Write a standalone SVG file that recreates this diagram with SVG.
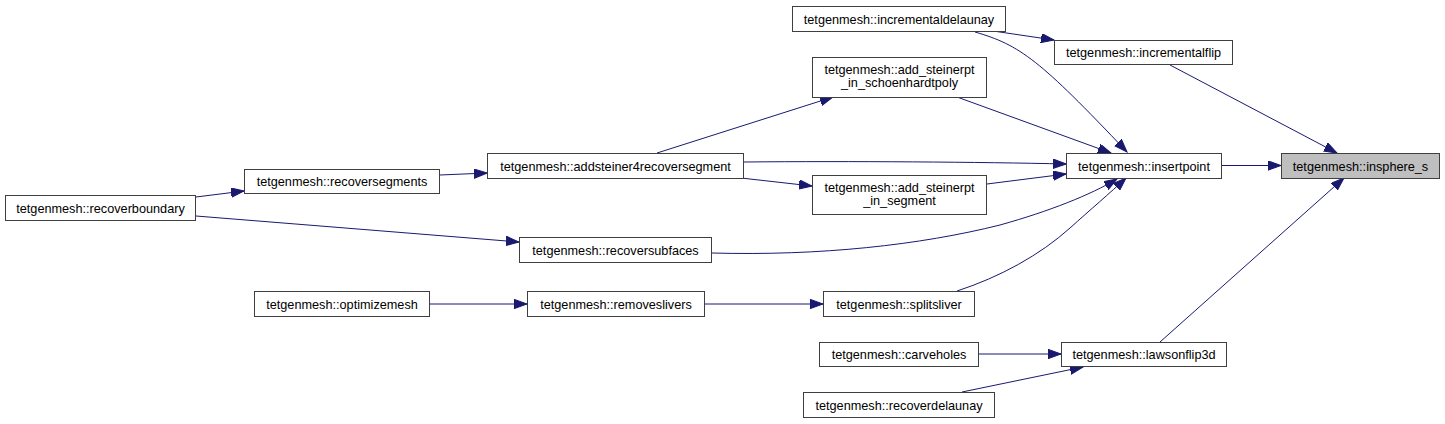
<svg xmlns="http://www.w3.org/2000/svg" width="1445" height="424" viewBox="0 0 1445 424">
<style>
.n rect{fill:#ffffff;stroke:#3f3f3f;stroke-width:1}
.n.root rect{fill:#bfbfbf}
.n text{font-family:"Liberation Sans",Arial,sans-serif;font-size:12.7px;fill:#000;text-anchor:middle}
.e path{fill:none;stroke:#191970;stroke-width:1;marker-end:url(#ah)}
</style>
<defs>
<marker id="ah" markerWidth="14" markerHeight="10" refX="13" refY="4.7" orient="auto" markerUnits="userSpaceOnUse">
<polygon points="0,0 13,4.7 0,9.4" fill="#191970" stroke="#191970" stroke-width="1"/>
</marker>
</defs>
<rect width="1445" height="424" fill="#ffffff"/>
<g id="edges" class="e">
<path d="M1222,165.5 L1281,165.5"/>
<path d="M1170,65 L1337,153"/>
<path d="M1160,342 L1344,178"/>
<path d="M993,31 L1054,40"/>
<path d="M975,32 C1020,45 1040,60 1127,152"/>
<path d="M957,97 L1111,153"/>
<path d="M744,162 C850,161 980,162 1066,164"/>
<path d="M987,184 L1066,174"/>
<path d="M712,253 C820,256 920,245 1000,225 C1050,211 1090,195 1117,179"/>
<path d="M957,291 C1000,277 1040,255 1070,228 C1090,210 1110,193 1126,178"/>
<path d="M741,178 L812,186"/>
<path d="M657,153 L833,97"/>
<path d="M440,175 L487,173"/>
<path d="M196,197 L244,191"/>
<path d="M196,216 L519,242"/>
<path d="M430,304 L527,304"/>
<path d="M704,304 L823,304"/>
<path d="M979,354 L1061,354"/>
<path d="M962,392 L1083,367"/>
</g>
<g id="insphere_s" class="n root"><rect x="1281.5" y="153.5" width="158" height="25"/><text x="1360.5" y="170.5">tetgenmesh::insphere_s</text></g>
<g id="insertpoint" class="n"><rect x="1066.5" y="153.5" width="155" height="25"/><text x="1144" y="170.5">tetgenmesh::insertpoint</text></g>
<g id="incrementalflip" class="n"><rect x="1054.5" y="40.5" width="178" height="24"/><text x="1143.5" y="57">tetgenmesh::incrementalflip</text></g>
<g id="lawsonflip3d" class="n"><rect x="1061.5" y="342.5" width="165" height="24"/><text x="1144" y="359">tetgenmesh::lawsonflip3d</text></g>
<g id="incrementaldelaunay" class="n"><rect x="792.5" y="6.5" width="213" height="25"/><text x="899" y="23.5">tetgenmesh::incrementaldelaunay</text></g>
<g id="add_steinerpt_in_schoenhardtpoly" class="n"><rect x="812.5" y="57.5" width="174" height="40"/><text x="899.5" y="73.5">tetgenmesh::add_steinerpt</text><text x="899.5" y="87">_in_schoenhardtpoly</text></g>
<g id="addsteiner4recoversegment" class="n"><rect x="487.5" y="153.5" width="256" height="25"/><text x="615.5" y="170.5">tetgenmesh::addsteiner4recoversegment</text></g>
<g id="add_steinerpt_in_segment" class="n"><rect x="812.5" y="175.5" width="174" height="39"/><text x="899.5" y="191.5">tetgenmesh::add_steinerpt</text><text x="899.5" y="205">_in_segment</text></g>
<g id="recoversubfaces" class="n"><rect x="519.5" y="237.5" width="192" height="25"/><text x="615.5" y="254.5">tetgenmesh::recoversubfaces</text></g>
<g id="splitsliver" class="n"><rect x="823.5" y="291.5" width="151" height="25"/><text x="899" y="308.5">tetgenmesh::splitsliver</text></g>
<g id="carveholes" class="n"><rect x="819.5" y="342.5" width="159" height="24"/><text x="899" y="359">tetgenmesh::carveholes</text></g>
<g id="recoverdelaunay" class="n"><rect x="803.5" y="392.5" width="191" height="25"/><text x="899" y="409.5">tetgenmesh::recoverdelaunay</text></g>
<g id="recoversegments" class="n"><rect x="244.5" y="169.5" width="195" height="24"/><text x="342" y="186">tetgenmesh::recoversegments</text></g>
<g id="removeslivers" class="n"><rect x="527.5" y="291.5" width="177" height="25"/><text x="616" y="308.5">tetgenmesh::removeslivers</text></g>
<g id="recoverboundary" class="n"><rect x="5.5" y="195.5" width="190" height="25"/><text x="100.5" y="212.5">tetgenmesh::recoverboundary</text></g>
<g id="optimizemesh" class="n"><rect x="254.5" y="291.5" width="175" height="25"/><text x="342" y="308.5">tetgenmesh::optimizemesh</text></g>
</svg>
